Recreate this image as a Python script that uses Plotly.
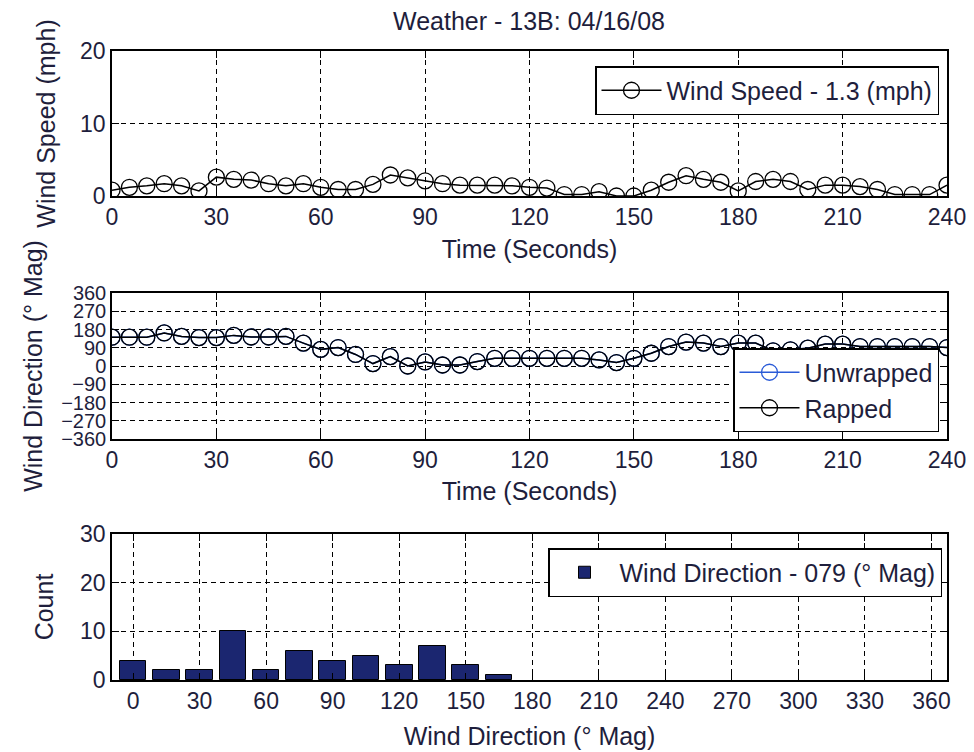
import plotly.graph_objects as go

# sample times (s)
time_s = [0, 5, 10, 15, 20, 25, 30, 35, 40, 45, 50, 55, 60, 65, 70, 75, 80, 85, 90, 95,
          100, 105, 110, 115, 120, 125, 130, 135, 140, 145, 150, 155, 160, 165, 170, 175,
          180, 185, 190, 195, 200, 205, 210, 215, 220, 225, 230, 235, 240]

wind_speed = [0.8, 1.2, 1.4, 1.7, 1.4, 0.7, 2.6, 2.3, 2.2, 1.7, 1.4, 1.7, 1.2, 0.9, 0.9,
              1.6, 2.9, 2.5, 2.1, 1.7, 1.5, 1.5, 1.5, 1.4, 1.2, 1.1, 0.2, 0.2, 0.6, 0.0,
              0.0, 0.8, 1.9, 2.8, 2.3, 1.9, 0.7, 2.0, 2.3, 2.0, 0.9, 1.5, 1.5, 1.3, 0.9,
              0.2, 0.2, 0.2, 1.5]

wind_dir = [142, 142, 142, 163, 146, 140, 140, 151, 143, 143, 146, 113, 82, 91, 57, 12,
            46, 0, 20, 5, 5, 22, 38, 38, 38, 38, 38, 38, 30, 17, 38, 63, 96, 118, 113, 96,
            113, 113, 75, 80, 88, 108, 108, 96, 96, 96, 96, 96, 91]

# histogram of direction (15 deg bins)
bin_centers = [0, 15, 30, 45, 60, 75, 90, 105, 120, 135, 150, 165]
bin_counts = [4, 2, 2, 10, 2, 6, 4, 5, 3, 7, 3, 1]

time_ticks = [0, 30, 60, 90, 120, 150, 180, 210, 240]
dir_ticks = [-360, -270, -180, -90, 0, 90, 180, 270, 360]
hist_ticks = [0, 30, 60, 90, 120, 150, 180, 210, 240, 270, 300, 330, 360]

FONT = 'Liberation Sans, Arial, sans-serif'
TXT = '#1e1e3c'
# page body has an 8px margin, so the figure is drawn 8px smaller and shifted
OFF = 8
W, H = 974 - OFF, 752 - OFF


def px_x(a, b):
    return [(a - OFF) / W, (b - OFF) / W]


def px_y(top, bottom):
    return [1 - (bottom - OFF) / H, 1 - (top - OFF) / H]


fig = go.Figure()

fig.add_trace(go.Scatter(
    x=time_s, y=wind_speed, name='Wind Speed - 1.3 (mph)',
    mode='lines+markers', line=dict(color='black', width=1.5),
    marker=dict(symbol='circle-open', size=16, color='black', line=dict(width=1.3)),
    xaxis='x', yaxis='y', legend='legend'
))

fig.add_trace(go.Scatter(
    x=time_s, y=wind_dir, name='Unwrapped',
    mode='lines+markers', line=dict(color='#2a5bd7', width=1.5),
    marker=dict(symbol='circle-open', size=16, color='#2a5bd7', line=dict(width=1.3)),
    xaxis='x2', yaxis='y2', legend='legend2'
))
fig.add_trace(go.Scatter(
    x=time_s, y=wind_dir, name='Rapped',
    mode='lines+markers', line=dict(color='black', width=1.5),
    marker=dict(symbol='circle-open', size=16, color='black', line=dict(width=1.3)),
    xaxis='x2', yaxis='y2', legend='legend2'
))

fig.add_trace(go.Bar(
    x=bin_centers, y=bin_counts, name='Wind Direction - 079 (° Mag)',
    width=12, marker=dict(color='#1b2670', line=dict(color='black', width=1)),
    xaxis='x3', yaxis='y3', legend='legend3'
))

axis_common = dict(
    showline=True, linecolor='black', linewidth=1.5, mirror='ticks',
    ticks='inside', ticklen=7, tickcolor='black', tickwidth=1,
    showgrid=True, gridcolor='black', gridwidth=1, griddash='5px,4px',
    zeroline=False, automargin=False,
    tickfont=dict(size=23, color=TXT, family=FONT),
    title_font=dict(size=25, color=TXT, family=FONT),
)

xdom = px_x(112, 947)
legend_style = dict(xanchor='right', yanchor='top', bgcolor='white',
                    bordercolor='black', borderwidth=1.5,
                    font=dict(size=25, color=TXT, family=FONT), itemwidth=60)

fig.update_layout(
    width=W, height=H,
    paper_bgcolor='white', plot_bgcolor='white',
    margin=dict(l=0, r=0, t=0, b=0),
    font=dict(family=FONT, color=TXT),
    title=dict(text='Weather - 13B: 04/16/08', x=(529 - OFF) / W, xanchor='center',
               y=1 - (21 - OFF) / H, yanchor='middle', automargin=False,
               font=dict(size=25, color=TXT, family=FONT)),
    xaxis=dict(domain=xdom, range=[0, 240], tickvals=time_ticks,
               title=dict(text='Time (Seconds)', standoff=11), anchor='y', **axis_common),
    yaxis=dict(domain=px_y(51, 196), range=[0, 20], tickvals=[0, 10, 20],
               title=dict(text='Wind Speed (mph)', standoff=17), anchor='x', **axis_common),
    xaxis2=dict(domain=xdom, range=[0, 240], tickvals=time_ticks,
                title=dict(text='Time (Seconds)', standoff=10), anchor='y2', **axis_common),
    yaxis2=dict(domain=px_y(293, 439), range=[-360, 360], tickvals=dir_ticks,
                title=dict(text='Wind Direction (° Mag)', standoff=11), anchor='x2',
                **{**axis_common, 'tickfont': dict(size=20, color=TXT, family=FONT)}),
    xaxis3=dict(domain=xdom, range=[-9.5, 367], tickvals=hist_ticks,
                title=dict(text='Wind Direction (° Mag)', standoff=14), anchor='y3', **axis_common),
    yaxis3=dict(domain=px_y(534, 680), range=[0, 30], tickvals=[0, 10, 20, 30],
                title=dict(text='Count', standoff=19), anchor='x3', **axis_common),
    legend=dict(x=(939 - OFF) / W, y=1 - (66 - OFF) / H, **legend_style),
    legend2=dict(x=(939 - OFF) / W, y=1 - (348 - OFF) / H, **legend_style),
    legend3=dict(x=(942 - OFF) / W, y=1 - (548 - OFF) / H, **legend_style),
    bargap=0,
    showlegend=True,
)

fig.write_html('out.html')
